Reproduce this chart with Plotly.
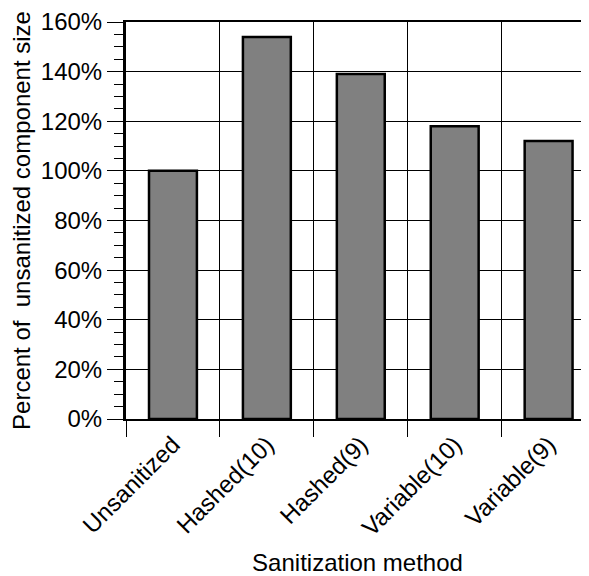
import plotly.graph_objects as go

categories = ["Unsanitized", "Hashed(10)", "Hashed(9)", "Variable(10)", "Variable(9)"]
values = [100, 154, 139, 118, 112]
y_ticks = [0, 20, 40, 60, 80, 100, 120, 140, 160]

font = "Liberation Sans, Arial, Helvetica, sans-serif"

fig = go.Figure(go.Bar(
    x=categories, y=values, width=0.51,
    marker=dict(color="#808080", line=dict(color="black", width=2.5)),
))

# page body has an 8px margin, so offset the figure accordingly
fig.update_layout(
    width=581, height=568,
    margin=dict(l=118, r=0, t=10, b=157),
    paper_bgcolor="white", plot_bgcolor="white",
    font=dict(family=font, size=24, color="black"),
    showlegend=False,
)
fig.update_xaxes(
    type="category", range=[-0.5, 4.43],
    tickson="boundaries", ticks="outside", ticklen=16, tickwidth=1, tickcolor="black",
    showgrid=True, gridcolor="black", gridwidth=1,
    showline=True, linecolor="black", linewidth=2, mirror=True,
    tickangle=-45,
    title=dict(text="Sanitization method", font=dict(size=24)),
)
fig.update_yaxes(
    range=[0, 160], tickvals=y_ticks, ticktext=[f"{v}%" for v in y_ticks],
    ticklabeloverflow="allow",
    ticks="outside", ticklen=16, tickwidth=1, tickcolor="black",
    minor=dict(dtick=5, ticks="outside", ticklen=9, tickwidth=1, tickcolor="black", showgrid=False),
    showgrid=True, gridcolor="black", gridwidth=1, zeroline=False,
    showline=True, linecolor="black", linewidth=3,
    title=dict(text="Percent of  unsanitized component size", font=dict(size=24), standoff=6),
)

fig.write_html("out.html")
